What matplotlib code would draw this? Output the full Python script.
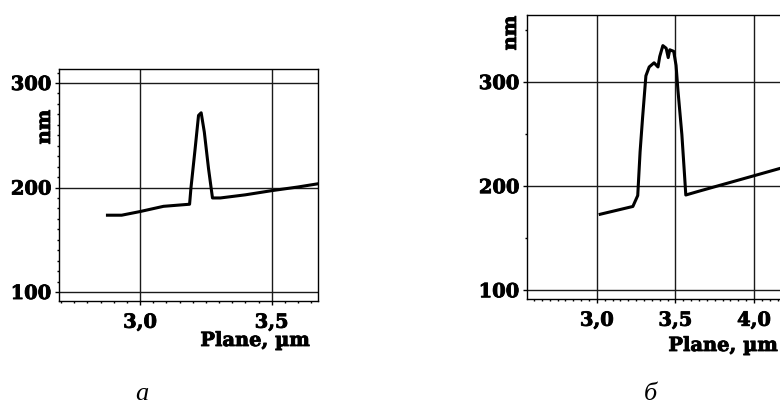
import matplotlib
matplotlib.use("Agg")
import matplotlib.pyplot as plt
import matplotlib.patheffects as pe
from matplotlib.ticker import MultipleLocator, FuncFormatter

# --- profile (a): single narrow ridge ---
plane_a = [2.876, 2.930, 3.000, 3.089, 3.188, 3.193, 3.209, 3.222, 3.232,
           3.244, 3.260, 3.275, 3.305, 3.400, 3.500, 3.600, 3.674]
height_a = [173.5, 173.5, 177.0, 182.0, 184.0, 199.0, 237.0, 269.0, 271.5,
            253.0, 218.0, 190.0, 190.0, 193.0, 197.0, 200.5, 203.5]

# --- profile (b): wide ridge with ragged top ---
plane_b = [3.021, 3.229, 3.260, 3.275, 3.291, 3.312, 3.333, 3.364, 3.389,
           3.400, 3.420, 3.441, 3.454, 3.464, 3.489, 3.504, 3.516, 3.541,
           3.558, 3.566, 3.646, 4.000, 4.200]
height_b = [173.0, 180.5, 191.0, 233.0, 266.0, 306.0, 314.5, 318.5, 314.5,
            324.5, 335.0, 332.5, 323.5, 331.0, 329.5, 316.0, 292.0, 249.5,
            210.5, 191.5, 195.0, 210.0, 218.5]

panel_labels = ["а", "б"]
x_title = "Plane, µm"
y_title = "nm"

W, H = 780, 406
BOLD = dict(family="DejaVu Serif", weight="bold", size=14)
HEAVY = [pe.withStroke(linewidth=0.6, foreground="black")]


def box(l, t, r, b):
    """Axes rectangle from pixel edges (origin top-left)."""
    return [l / W, 1 - b / H, (r - l) / W, (b - t) / H]


def fpos(x, y):
    return x / W, 1 - y / H


def style(ax, xminor, yminor):
    ax.xaxis.set_major_locator(MultipleLocator(0.5))
    ax.xaxis.set_minor_locator(MultipleLocator(xminor))
    ax.yaxis.set_major_locator(MultipleLocator(100))
    ax.yaxis.set_minor_locator(MultipleLocator(yminor))
    ax.xaxis.set_major_formatter(
        FuncFormatter(lambda v, p: f"{v:.1f}".replace(".", ",")))
    ax.yaxis.set_major_formatter(FuncFormatter(lambda v, p: f"{v:.0f}"))
    ax.tick_params(which="both", direction="out", color="black", width=1.0)
    ax.tick_params(which="major", length=3.2)
    ax.tick_params(which="minor", length=1.6)
    ax.tick_params(axis="x", which="major", pad=6)
    ax.tick_params(axis="y", which="major", pad=2.5)
    fp = matplotlib.font_manager.FontProperties(**BOLD)
    for lab in ax.get_xticklabels() + ax.get_yticklabels():
        lab.set_fontproperties(fp)
        lab.set_path_effects(HEAVY)
    ax.grid(which="major", color="#1a1a1a", linewidth=1.0)
    ax.set_axisbelow(True)
    for s in ax.spines.values():
        s.set_linewidth(1.0)
        s.set_color("black")


fig = plt.figure(figsize=(7.8, 4.06), dpi=100)

ax_a = fig.add_axes(box(59.3, 70, 317.5, 302))
ax_a.plot(plane_a, height_a, color="black", linewidth=2.2)
ax_a.set_xlim(2.693, 3.674)
ax_a.set_ylim(91.4, 313.4)
style(ax_a, 0.05, 10)

ax_b = fig.add_axes(box(527.3, 15.7, 801.1, 300))
ax_b.plot(plane_b, height_b, color="black", linewidth=2.2)
ax_b.set_xlim(2.557, 4.3)
ax_b.set_ylim(91.6, 364.7)
style(ax_b, 0.05, 50)

# axis titles placed like in the scanned figure
fig.text(*fpos(310, 342), x_title, ha="right", va="center",
         path_effects=HEAVY, **BOLD)
fig.text(*fpos(778, 347), x_title, ha="right", va="center",
         path_effects=HEAVY, **BOLD)
fig.text(*fpos(45, 128), y_title, ha="center", va="center", rotation=90,
         path_effects=HEAVY, **BOLD)
fig.text(*fpos(511, 34), y_title, ha="center", va="center", rotation=90,
         path_effects=HEAVY, **BOLD)

fig.text(*fpos(142, 394), panel_labels[0], ha="center", va="center",
         family="Liberation Serif", style="italic", size=19)
fig.text(*fpos(650, 394), panel_labels[1], ha="center", va="center",
         family="Liberation Serif", style="italic", size=19)

fig.savefig("out.png", dpi=100)
